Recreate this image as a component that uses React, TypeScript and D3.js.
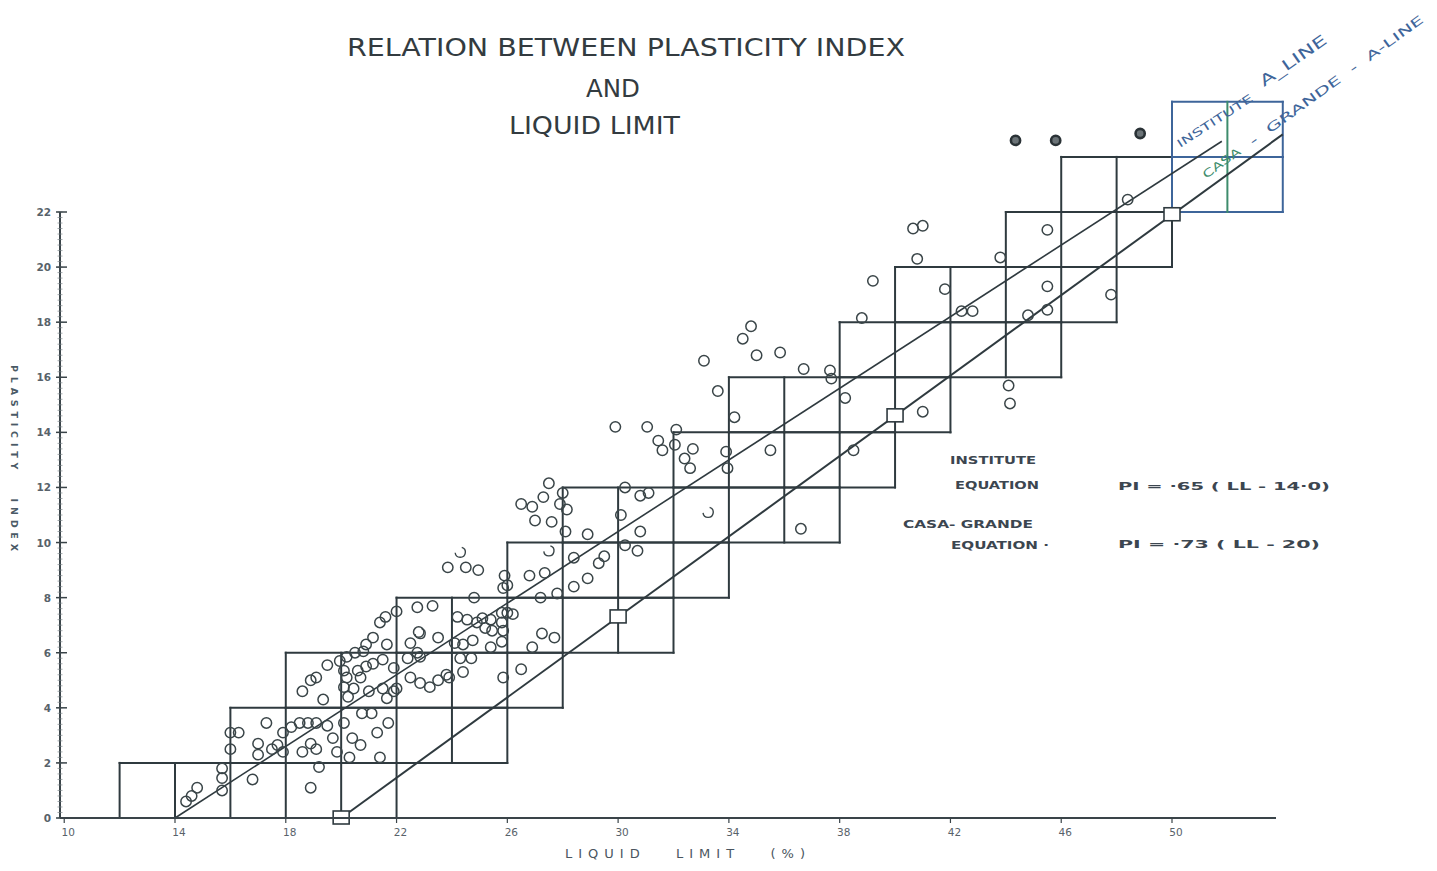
import React from "react";
import * as d3 from "d3";

// ---------- data ----------
const titleLines = ["RELATION  BETWEEN  PLASTICITY  INDEX", "AND", "LIQUID  LIMIT"];
const xTickValues = [10, 14, 18, 22, 26, 30, 34, 38, 42, 46, 50];
const yTickValues = [0, 2, 4, 6, 8, 10, 12, 14, 16, 18, 20, 22];

// staircase grid: each row is 2 PI units tall, split into 2-LL cells
const rowBase = [0, 2, 4, 6, 8, 10, 12, 14, 16, 18, 20, 22, 24];
const rowLeft = [12, 16, 18, 22, 26, 28, 32, 34, 38, 40, 44, 46, 50];
const rowRight = [22, 26, 28, 32, 34, 38, 40, 42, 46, 48, 50, 54, 54];

// A-lines
const instituteCoef = 0.65;
const instituteLL0 = 14;
const instituteRange = [14, 51.8];
const casaCoef = 0.73;
const casaLL0 = 20;
const casaRange = [20, 54];
const casaMarkers = [20, 30, 40, 50];

// observed samples (liquid limit, plasticity index)
const sampleLL = [
  14.8, 14.6, 14.4, 15.7, 15.7, 15.7, 16.0, 16.3, 16.0, 16.8, 17.3, 17.0, 17.0, 17.5, 17.9, 17.7,
  17.9, 18.2, 18.5, 18.8, 19.1, 19.5, 18.9, 18.6, 19.1, 19.7, 19.85, 20.3, 20.1, 20.25, 19.35, 20.75,
  21.1, 20.4, 20.7, 21.3, 21.7, 21.4, 21.65, 21.9, 21.0, 19.2, 18.9, 18.6, 18.9, 19.1, 19.5, 19.95,
  20.2, 20.5, 20.8, 20.9, 21.15, 21.4, 21.6, 21.65, 20.1, 20.2, 20.6, 20.7, 20.9, 21.15, 21.5, 20.1,
  20.45, 21.5, 22.0, 21.9, 22.0, 22.75, 23.3, 22.8, 23.5, 22.5, 22.75, 22.4, 22.85, 22.5, 22.85, 23.2,
  23.5, 23.8, 24.2, 24.55, 24.9, 25.1, 25.4, 25.8, 25.8, 26.0, 26.2, 24.1, 24.4, 24.75, 25.4, 25.8,
  25.85, 25.45, 25.2, 24.3, 24.7, 24.4, 23.9, 24.8, 27.2, 27.25, 26.9, 26.5, 25.85, 25.85, 27.5, 27.3,
  26.9, 26.5, 27.9, 28.15, 27.0, 27.6, 28.0, 28.1, 28.9, 30.25, 30.8, 31.1, 30.1, 30.8, 30.25, 30.7,
  23.85, 24.5, 24.95, 25.9, 26.0, 26.8, 27.35, 28.4, 29.5, 29.3, 28.9, 28.4, 27.8, 27.7, 33.1, 34.8,
  34.5, 35.0, 35.85, 36.7, 37.65, 37.7, 33.6, 38.2, 34.2, 29.9, 31.05, 31.45, 31.6, 32.1, 32.05, 32.7,
  32.4, 32.6, 33.9, 33.95, 35.5, 36.6, 38.5, 41.0, 39.2, 38.8, 40.8, 40.65, 41.0, 41.8, 42.4, 42.8,
  43.8, 45.5, 44.8, 45.5, 47.8, 44.1, 44.15, 45.5, 48.4,
];
const samplePI = [
  1.1, 0.8, 0.6, 1.8, 1.45, 1.0, 3.1, 3.1, 2.5, 1.4, 3.45, 2.7, 2.3, 2.5, 2.4, 2.65,
  3.1, 3.3, 3.45, 3.45, 3.45, 3.35, 2.7, 2.4, 2.5, 2.9, 2.4, 2.2, 3.45, 4.4, 4.3, 3.8,
  3.8, 2.9, 2.65, 3.1, 3.45, 2.2, 4.35, 4.6, 4.6, 1.85, 1.1, 4.6, 5.0, 5.1, 5.55, 5.7,
  5.85, 6.0, 6.05, 6.3, 6.55, 7.1, 7.3, 6.3, 5.35, 5.1, 5.35, 5.1, 5.5, 5.6, 5.75, 4.75,
  4.7, 4.7, 4.7, 5.45, 7.5, 7.65, 7.7, 6.75, 6.55, 6.35, 6.0, 5.8, 5.85, 5.1, 4.9, 4.75,
  5.0, 5.2, 7.3, 7.2, 7.1, 7.25, 7.2, 7.45, 7.1, 7.45, 7.4, 6.35, 6.3, 6.45, 6.2, 6.4,
  6.8, 6.8, 6.9, 5.8, 5.8, 5.3, 5.1, 8.0, 8.0, 6.7, 6.2, 5.4, 5.1, 8.35, 12.15, 11.65,
  11.3, 11.4, 11.4, 11.2, 10.8, 10.75, 11.8, 10.4, 10.3, 12.0, 11.7, 11.8, 11.0, 10.4, 9.9, 9.7,
  9.1, 9.1, 9.0, 8.8, 8.45, 8.8, 8.9, 9.45, 9.5, 9.25, 8.7, 8.4, 8.15, 6.55, 16.6, 17.85,
  17.4, 16.8, 16.9, 16.3, 16.25, 15.95, 15.5, 15.25, 14.55, 14.2, 14.2, 13.7, 13.35, 14.1, 13.55, 13.4,
  13.05, 12.7, 13.3, 12.7, 13.35, 10.5, 13.35, 14.75, 19.5, 18.15, 20.3, 21.4, 21.5, 19.2, 18.4, 18.4,
  20.35, 19.3, 18.25, 18.45, 19.0, 15.7, 15.05, 21.35, 22.45,
];
const darkLL = [44.35, 45.8, 48.85];
const darkPI = [24.6, 24.6, 24.85];
const brokenLL = [33.25, 27.5, 24.3, 22.85];
const brokenPI = [11.1, 9.7, 9.65, 6.7];

export default function App() {
  const W = 1437;
  const H = 871;
  const x = d3.scaleLinear().domain([14, 50]).range([175, 1172]);
  const y = d3.scaleLinear().domain([0, 22]).range([818, 212]);

  const ink = "#2f3a3f";
  const blue = "#3e659a";
  const green = "#3d8c6c";
  const txt = "#3c4650";
  const pre = { whiteSpace: "pre" as const };

  type Seg = { x1: number; x2: number; y1: number; y2: number; c: string };
  const segs: Seg[] = [];
  rowBase.forEach((b, i) => {
    const L = rowLeft[i];
    const R = rowRight[i];
    const t = b + 2;
    [b, t].forEach((v) => {
      if (L < 50 && R > 50) {
        segs.push({ x1: L, x2: 50, y1: v, y2: v, c: ink });
        segs.push({ x1: 50, x2: R, y1: v, y2: v, c: blue });
      } else {
        segs.push({ x1: L, x2: R, y1: v, y2: v, c: L >= 50 ? blue : ink });
      }
    });
    for (let v = L; v <= R; v += 2) {
      const c = v === 52 ? green : v >= 50 && b >= 22 ? blue : ink;
      segs.push({ x1: v, x2: v, y1: b, y2: t, c });
    }
  });

  const lineGen = d3
    .line<[number, number]>()
    .x((d) => x(d[0]))
    .y((d) => y(d[1]));

  const instPts: [number, number][] = instituteRange.map((v) => [v, instituteCoef * (v - instituteLL0)]);
  const casaPts: [number, number][] = casaRange.map((v) => [v, casaCoef * (v - casaLL0)]);

  const minorTicks = d3.range(0, 22.01, 0.2);

  const brokenArc = d3.arc()({
    innerRadius: 4.4,
    outerRadius: 5.8,
    startAngle: 0.3,
    endAngle: 4.6,
  } as any) as string;

  const angInst = (Math.atan2(-(instituteCoef * 27.55), 27.69) * 180) / Math.PI;
  const angCasa = (Math.atan2(-(casaCoef * 27.55), 27.69) * 180) / Math.PI;

  return (
    <div style={{ position: "absolute", left: 0, top: 0 }}>
      <svg width={W} height={H} style={{ display: "block", background: "#fff" }}>
        {/* Title */}
        <g fill="#333b40" fontFamily="'DejaVu Sans', sans-serif" style={pre}>
          <text x={347} y={56} fontSize={25} textLength={558} lengthAdjust="spacingAndGlyphs">
            {titleLines[0]}
          </text>
          <text x={586} y={97} fontSize={24} textLength={54} lengthAdjust="spacingAndGlyphs">
            {titleLines[1]}
          </text>
          <text x={509} y={134} fontSize={24} textLength={171} lengthAdjust="spacingAndGlyphs">
            {titleLines[2]}
          </text>
        </g>

        {/* grid staircase */}
        <g strokeWidth={2} strokeLinecap="square">
          {segs.map((s, i) => (
            <line key={i} x1={x(s.x1)} x2={x(s.x2)} y1={y(s.y1)} y2={y(s.y2)} stroke={s.c} />
          ))}
        </g>

        {/* A-lines */}
        <path d={lineGen(instPts) as string} fill="none" stroke={ink} strokeWidth={1.6} />
        <path d={lineGen(casaPts) as string} fill="none" stroke={ink} strokeWidth={2} />
        {casaMarkers.map((v) => (
          <rect
            key={v}
            x={x(v) - 8}
            y={y(casaCoef * (v - casaLL0)) - 7}
            width={16}
            height={13}
            fill="#fff"
            stroke={ink}
            strokeWidth={1.6}
          />
        ))}

        {/* samples */}
        <g fill="none" stroke="#3a4548" strokeWidth={1.5}>
          {sampleLL.map((v, i) => (
            <circle key={i} cx={x(v)} cy={y(samplePI[i])} r={5.2} />
          ))}
        </g>
        <g>
          {darkLL.map((v, i) => (
            <circle key={i} cx={x(v)} cy={y(darkPI[i])} r={4.6} fill="#6b7377" stroke="#2a3236" strokeWidth={2.6} />
          ))}
        </g>
        <g fill="#3a4548">
          {brokenLL.map((v, i) => (
            <path key={i} d={brokenArc} transform={`translate(${x(v)},${y(brokenPI[i])})`} />
          ))}
        </g>

        {/* line labels */}
        <g fontFamily="'DejaVu Sans', sans-serif">
          <text transform={`translate(1180,148) rotate(${angInst})`} fontSize={11} fill={blue} textLength={88} lengthAdjust="spacingAndGlyphs">
            INSTITUTE
          </text>
          <text transform={`translate(1264,87) rotate(${angInst - 2})`} fontSize={15} fill={blue} textLength={78} lengthAdjust="spacingAndGlyphs">
            A_LINE
          </text>
          <text transform={`translate(1206,179) rotate(${angCasa})`} fontSize={11} fill={green} textLength={44} lengthAdjust="spacingAndGlyphs">
            CASA
          </text>
          <text transform={`translate(1253,146) rotate(${angCasa})`} fontSize={12} fill={blue} textLength={212} lengthAdjust="spacingAndGlyphs" style={pre}>
            {"-  GRANDE  -  A-LINE"}
          </text>
        </g>

        {/* equations */}
        <g fontFamily="'DejaVu Sans', sans-serif" fontWeight="bold" fontSize={11} fill={txt} style={pre}>
          <text x={950} y={464} textLength={86} lengthAdjust="spacingAndGlyphs">INSTITUTE</text>
          <text x={955} y={489} textLength={84} lengthAdjust="spacingAndGlyphs">EQUATION</text>
          <text x={1118} y={490} textLength={212} lengthAdjust="spacingAndGlyphs">{"PI  =  ·65 ( LL - 14·0)"}</text>
          <text x={903} y={528} textLength={130} lengthAdjust="spacingAndGlyphs">CASA- GRANDE</text>
          <text x={951} y={549} textLength={98} lengthAdjust="spacingAndGlyphs">EQUATION ·</text>
          <text x={1118} y={548} textLength={202} lengthAdjust="spacingAndGlyphs">{"PI  =  ·73 ( LL  - 20)"}</text>
        </g>

        {/* axes */}
        <g stroke="#3a4449">
          <line x1={60} x2={60} y1={y(0)} y2={y(22)} strokeWidth={2} />
          {minorTicks.map((v, i) => (
            <line key={i} x1={57.5} x2={62.5} y1={y(v)} y2={y(v)} strokeWidth={0.7} stroke="#7a8488" />
          ))}
          {yTickValues.map((v) => (
            <line key={v} x1={56} x2={67} y1={y(v)} y2={y(v)} strokeWidth={1.5} />
          ))}
          <line x1={60} x2={1276} y1={y(0)} y2={y(0)} strokeWidth={2} />
          {xTickValues.map((v) => (
            <line key={v} x1={x(v)} x2={x(v)} y1={y(0)} y2={y(0) + 5} strokeWidth={1.2} />
          ))}
        </g>
        <g fontFamily="'DejaVu Sans', sans-serif" fontSize={10.5} fontWeight="bold" fill="#58626a">
          {yTickValues.map((v) => (
            <text key={v} x={51} y={y(v) + 4} textAnchor="end">
              {v}
            </text>
          ))}
          {xTickValues.map((v) => (
            <text key={v} x={x(v) + 4} y={836} textAnchor="middle" fontWeight="normal">
              {v}
            </text>
          ))}
        </g>

        {/* axis titles */}
        <text
          transform="translate(11,365) rotate(90)"
          fontFamily="'DejaVu Sans', sans-serif"
          fontSize={9.5}
          fontWeight="bold"
          fill="#4a5a66"
          textLength={186}
          lengthAdjust="spacing"
          style={pre}
        >
          {"PLASTICITY   INDEX"}
        </text>
        <text
          x={565}
          y={858}
          fontFamily="'DejaVu Sans', sans-serif"
          fontSize={13}
          fill="#4a5560"
          textLength={240}
          lengthAdjust="spacing"
          style={pre}
        >
          {"LIQUID   LIMIT   (%)"}
        </text>
      </svg>
    </div>
  );
}
